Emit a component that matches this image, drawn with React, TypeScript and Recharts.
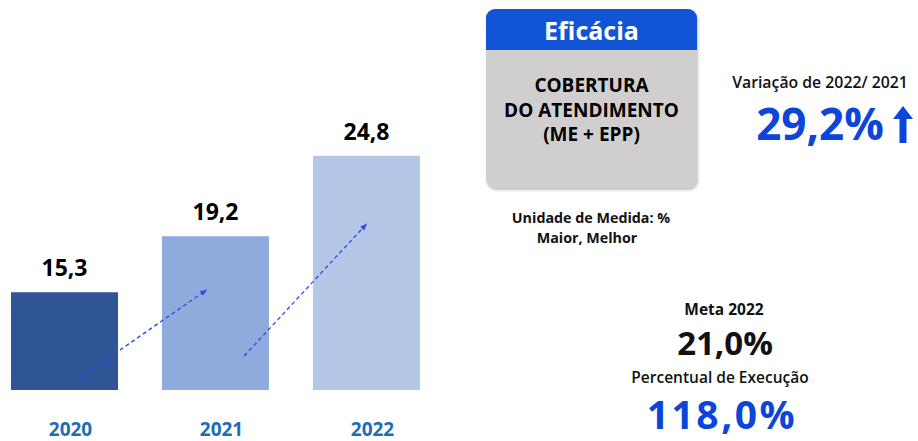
import React from 'react';
import { BarChart, Bar, XAxis, YAxis, Cell, LabelList, LineChart, Line } from 'recharts';

const years = ['2020', '2021', '2022'];
const values = [15.3, 19.2, 24.8];
const barColors = ['#2F5597', '#8FAADC', '#B4C7E7'];

// dashed trend arrows, x in category-slot units (0..3), y in value units
const arrow1 = [{ x: 0.6, y: 9.33 }, { x: 1.44, y: 15.46 }];
const arrow2 = [{ x: 1.69, y: 10.87 }, { x: 2.5, y: 20.05 }];

const data = years.map((year, i) => ({ year, value: values[i] }));

const FONT = '"Open Sans", "Noto Sans", sans-serif';
const BLUE = '#0B45DA';
const ARROW = '#2A4BE8';

const fmt = (v: number) => v.toFixed(1).replace('.', ',');

// cy = vertical centre of the capitals
const txt = (cx: number, cy: number, fs: number, style: React.CSSProperties, text: string) => (
    <div style={{ position: 'absolute', left: cx - 150, width: 300, top: cy - 0.712 * fs, fontSize: fs, lineHeight: 'normal', textAlign: 'center', fontFamily: FONT, whiteSpace: 'nowrap', ...style }}>
        {text}
    </div>
);

export default function App() {
    return (
        <div style={{ position: 'fixed', left: 0, top: 0, width: 918, height: 441, background: '#fff', overflow: 'hidden' }}>
            <div style={{ position: 'absolute', left: -11, top: 0 }}>
                <BarChart width={453} height={441} data={data} margin={{ top: 81, right: 0, left: 0, bottom: 0 }}>
                    <XAxis dataKey="year" height={51} axisLine={false} tickLine={false} tickSize={0} tickMargin={33}
                        tick={{ fill: '#1F6DB8', fontSize: 19, fontWeight: 700, fontFamily: FONT, dx: 6 }} />
                    <YAxis hide domain={[8.5, 30]} allowDataOverflow />
                    <Bar dataKey="value" barSize={107} isAnimationActive={false}>
                        {data.map((d, i) => <Cell key={d.year} fill={barColors[i]} />)}
                        <LabelList dataKey="value" position="top" offset={16} formatter={(v: any) => fmt(Number(v))}
                            fill="#000" fontSize={23} fontWeight={700} fontFamily={FONT} />
                    </Bar>
                </BarChart>
            </div>
            <div style={{ position: 'absolute', left: -11, top: 0, pointerEvents: 'none' }}>
                <LineChart width={453} height={441} margin={{ top: 81, right: 0, left: 0, bottom: 51 }}>
                    <defs>
                        <marker id="arrowHead" viewBox="0 0 10 10" refX="9" refY="5" markerWidth="7" markerHeight="7"
                            markerUnits="userSpaceOnUse" orient="auto">
                            <path d="M0,1 L10,5 L0,9 z" fill={ARROW} />
                        </marker>
                    </defs>
                    <XAxis type="number" dataKey="x" domain={[0, 3]} allowDataOverflow hide />
                    <YAxis type="number" dataKey="y" domain={[8.5, 30]} allowDataOverflow hide />
                    {[arrow1, arrow2].map((a, i) => (
                        <Line key={i} data={a} dataKey="y" stroke={ARROW} strokeWidth={1.3} strokeDasharray="4 3"
                            dot={false} activeDot={false} markerEnd="url(#arrowHead)" isAnimationActive={false} />
                    ))}
                </LineChart>
            </div>

            {/* indicator card */}
            <div style={{ position: 'absolute', left: 486, top: 9, width: 211, height: 179, borderRadius: 9, overflow: 'hidden', background: '#D0CECE', boxShadow: '1px 2px 3px rgba(0,0,0,0.25)' }}>
                <div style={{ height: 41, background: '#1155D6', color: '#fff', fontFamily: FONT, fontWeight: 700, fontSize: 25, textAlign: 'center', lineHeight: '42px' }}>
                    Eficácia
                </div>
                <div style={{ marginTop: 23, textAlign: 'center', fontFamily: FONT, fontWeight: 700, fontSize: 19, lineHeight: '24.5px', color: '#000' }}>
                    COBERTURA<br />DO ATENDIMENTO<br />(ME + EPP)
                </div>
            </div>

            {txt(591, 218, 14.3, { fontWeight: 700, color: '#111' }, 'Unidade de Medida: %')}
            {txt(587, 238, 14.3, { fontWeight: 700, color: '#111' }, 'Maior, Melhor')}

            {txt(820, 82, 15.8, { fontWeight: 600, color: '#111' }, 'Variação de 2022/ 2021')}
            {txt(820, 124, 44, { fontWeight: 700, color: BLUE }, '29,2%')}
            <svg style={{ position: 'absolute', left: 892, top: 106 }} width={22} height={38}>
                <polygon points="11,0 21,13 14.5,13 14.5,37 7.5,37 7.5,13 1,13" fill={BLUE} />
            </svg>

            {txt(724, 309, 15.5, { fontWeight: 700, color: '#111' }, 'Meta 2022')}
            {txt(725, 343, 33, { fontWeight: 700, color: '#111' }, '21,0%')}
            {txt(720, 377, 15.5, { fontWeight: 600, color: '#111' }, 'Percentual de Execução')}
            {txt(722, 415, 39, { fontWeight: 700, color: BLUE, letterSpacing: 2.5 }, '118,0%')}
        </div>
    );
}
